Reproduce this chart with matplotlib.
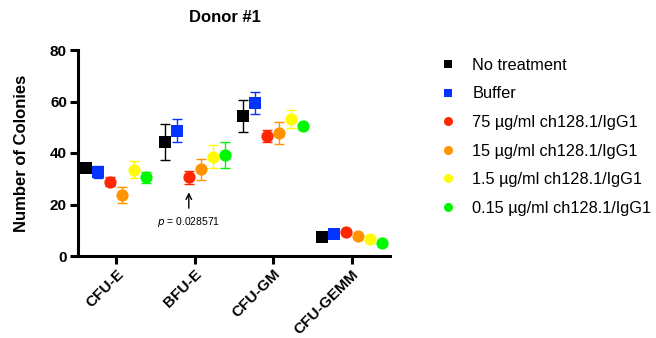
import matplotlib
matplotlib.use("Agg")
import matplotlib.pyplot as plt
from matplotlib.lines import Line2D
import numpy as np

plt.rcParams['font.family'] = ['Liberation Sans', 'DejaVu Sans']

categories = ["CFU-E", "BFU-E", "CFU-GM", "CFU-GEMM"]
series = ["No treatment", "Buffer", "75 µg/ml ch128.1/IgG1", "15 µg/ml ch128.1/IgG1",
          "1.5 µg/ml ch128.1/IgG1", "0.15 µg/ml ch128.1/IgG1"]
colors = ["#000000", "#0433FF", "#FF2600", "#FF9300", "#FFFB00", "#00F900"]
markers = ["s", "s", "o", "o", "o", "o"]

# mean colony counts per series, one value per category
means = [
    [34.1, 44.3, 54.4, 7.5],
    [32.7, 48.7, 59.4, 8.5],
    [28.9, 30.5, 46.5, 9.2],
    [23.7, 33.7, 47.8, 7.9],
    [33.4, 38.6, 53.3, 6.6],
    [30.5, 39.1, 50.4, 5.0],
]
# error (SD) per series, one value per category
errors = [
    [1.0, 7.1, 6.1, 0.3],
    [2.3, 4.5, 4.1, 0.3],
    [1.7, 2.4, 2.3, 0.3],
    [3.0, 4.1, 4.2, 0.3],
    [3.3, 4.4, 3.5, 0.3],
    [2.2, 5.0, 1.0, 0.3],
]

fig = plt.figure(figsize=(6.56, 3.38), dpi=100)
ax = fig.add_axes([78 / 656, 1 - 256 / 338, (390 - 78) / 656, (256 - 50) / 338])

x = np.arange(len(categories))
step = 0.153
for i, (name, c, m) in enumerate(zip(series, colors, markers)):
    xs = x + (i - 2.5) * step
    ax.errorbar(xs, means[i], yerr=errors[i], fmt="none", ecolor=c,
                elinewidth=1.0, capsize=3.6, capthick=1.0, zorder=2)
    ax.plot(xs, means[i], linestyle="none", marker=m, color=c,
            markersize=8.8 if m == "o" else 8.3, markeredgewidth=0, zorder=3)

ax.set_xlim(-0.49, 3.49)
ax.set_ylim(0, 80)
ax.set_yticks([0, 20, 40, 60, 80])
ax.set_xticks(x)
ax.set_xticklabels(categories, rotation=45, ha="right", rotation_mode="anchor",
                   fontsize=11.1, fontweight="bold")
for lab in ax.get_yticklabels():
    lab.set_fontweight("bold")
    lab.set_fontsize(11)

for side in ["top", "right"]:
    ax.spines[side].set_visible(False)
for side in ["left", "bottom"]:
    ax.spines[side].set_linewidth(2.2)
ax.tick_params(axis="both", width=2.2, length=6, direction="out", pad=2)

ax.set_ylabel("Number of Colonies", fontsize=12, fontweight="bold", labelpad=15)
fig.text(225 / 656, 1 - 17 / 338, "Donor #1", fontsize=12, fontweight="bold",
         ha="center", va="center")

# significance marker under the 75 µg/ml BFU-E point
ax.annotate("", xy=(1 - 0.5 * step, 25.8), xytext=(1 - 0.5 * step, 17.5),
            arrowprops=dict(arrowstyle="->", color="black", lw=1.0))
ax.text(1 - 0.5 * step, 13.2, r"$\it{p}$ = 0.028571", fontsize=7.5,
        ha="center", va="center")

handles = [Line2D([], [], linestyle="none", marker=m, color=c, markeredgewidth=0,
                  markersize=6.5 if m == "o" else 6.2)
           for c, m in zip(colors, markers)]
fig.legend(handles, series, loc="upper left", bbox_to_anchor=(423 / 656, 1 - 43 / 338),
           frameon=False, fontsize=11.8, handletextpad=0.9,
           labelspacing=0.83, handlelength=1.2)

fig.savefig("out.png", dpi=100)
